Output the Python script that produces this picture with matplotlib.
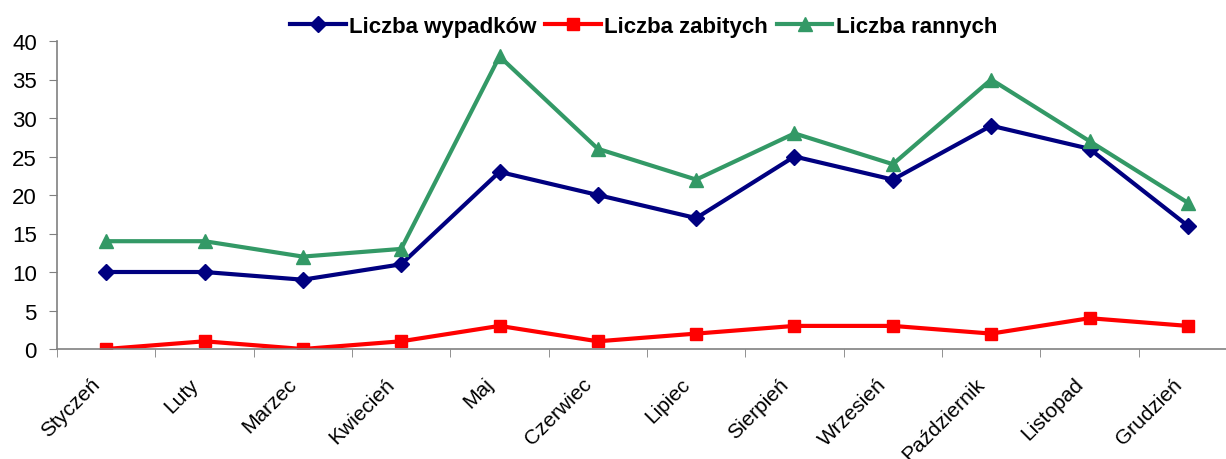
import numpy as np
from matplotlib import pyplot as plt
from matplotlib.transforms import ScaledTranslation

months = ["Styczeń", "Luty", "Marzec", "Kwiecień", "Maj", "Czerwiec",
          "Lipiec", "Sierpień", "Wrzesień", "Październik", "Listopad", "Grudzień"]
wypadki = [10, 10, 9, 11, 23, 20, 17, 25, 22, 29, 26, 16]
zabici = [0, 1, 0, 1, 3, 1, 2, 3, 3, 2, 4, 3]
ranni = [14, 14, 12, 13, 38, 26, 22, 28, 24, 35, 27, 19]

plt.rcParams['font.family'] = ['Liberation Sans', 'DejaVu Sans']

fig = plt.figure(figsize=(12.26, 4.6), dpi=100)
ax = fig.add_axes([57/1226, 1-350/460, 1180/1226, 308/460])

x = np.arange(len(months))
ax.plot(x, wypadki, color="#000080", lw=3, marker="D", ms=8, label="Liczba wypadków")
ax.plot(x, zabici, color="#FF0000", lw=3, marker="s", ms=9, label="Liczba zabitych")
ax.plot(x, ranni, color="#339966", lw=3, marker="^", ms=10, label="Liczba rannych")

ax.set_xlim(-0.5, 11.5)
ax.set_ylim(0, 40)
ax.set_yticks(range(0, 41, 5))
ax.tick_params(axis="y", labelsize=16, length=6, color="#808080", pad=8.5)
ax.set_xticks(x)
ax.set_xticklabels(months, rotation=45, ha="right", rotation_mode="anchor", fontsize=15)
ax.tick_params(axis="x", which="major", length=0, pad=18)
ax.set_xticks(np.arange(-0.5, 12, 1), minor=True)
ax.tick_params(axis="x", which="minor", length=6, color="#808080")
shift = ScaledTranslation(-0.16, 0, fig.dpi_scale_trans)
for lbl in ax.get_xticklabels():
    lbl.set_transform(lbl.get_transform() + shift)

for s in ["top", "right"]:
    ax.spines[s].set_visible(False)
for s in ["left", "bottom"]:
    ax.spines[s].set_color("#808080")
    ax.spines[s].set_linewidth(1.2)

fig.legend(loc="center", bbox_to_anchor=(0.525, 1-27/460), ncol=3, frameon=False,
           prop={"weight": "bold", "size": 16}, handlelength=2.5, columnspacing=0.4,
           handletextpad=0.15)

fig.savefig("out.png", dpi=100)
